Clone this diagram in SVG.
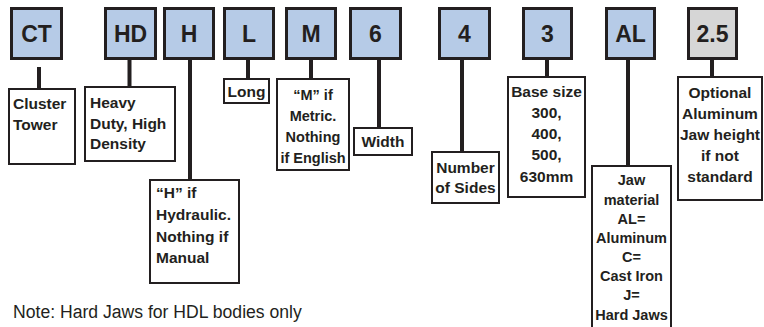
<svg xmlns="http://www.w3.org/2000/svg" width="764" height="327" viewBox="0 0 764 327">
<style>
.code{fill:#b6cbe7;stroke:#231f20;stroke-width:3}
.grey{fill:#d6d6d6;stroke:#231f20;stroke-width:3}
.ct{font-family:"Liberation Sans",Arial,sans-serif;font-weight:bold;font-size:23px;fill:#231f20;text-anchor:middle}
.desc{fill:#ffffff;stroke:#231f20;stroke-width:2}
.t{font-family:"Liberation Sans",Arial,sans-serif;font-weight:bold;font-size:15.5px;fill:#231f20}
.c{text-anchor:middle}
.sm{font-size:14.5px}
.stem{stroke:#231f20;stroke-width:4;fill:none}
.note{font-family:"Liberation Sans",Arial,sans-serif;font-size:17.6px;fill:#231f20}
</style>
<rect width="764" height="327" fill="#ffffff"/>
<g id="connectors">
<line class="stem" x1="39" y1="67" x2="39" y2="88"/>
<line class="stem" x1="129.5" y1="60" x2="129.5" y2="86"/>
<line class="stem" x1="190" y1="60" x2="190" y2="179"/>
<line class="stem" x1="248" y1="60" x2="248" y2="78"/>
<line class="stem" x1="311" y1="60" x2="311" y2="78"/>
<line class="stem" x1="379" y1="60" x2="379" y2="127"/>
<line class="stem" x1="462" y1="60" x2="462" y2="151"/>
<line class="stem" x1="547" y1="60" x2="547" y2="76"/>
<line class="stem" x1="628" y1="60" x2="628" y2="165"/>
<line class="stem" x1="712" y1="60" x2="712" y2="76"/>
</g>
<g id="code-CT"><rect class="code" x="11.5" y="8.5" width="50" height="50"/><text class="ct" x="36.5" y="42">CT</text></g>
<g id="code-HD"><rect class="code" x="105.5" y="8.5" width="50" height="50"/><text class="ct" x="130.5" y="42">HD</text></g>
<g id="code-H"><rect class="code" x="164.5" y="8.5" width="49" height="50"/><text class="ct" x="189" y="42">H</text></g>
<g id="code-L"><rect class="code" x="224.5" y="8.5" width="49" height="50"/><text class="ct" x="249" y="42">L</text></g>
<g id="code-M"><rect class="code" x="286.5" y="8.5" width="49" height="50"/><text class="ct" x="311" y="42">M</text></g>
<g id="code-6"><rect class="code" x="350.5" y="8.5" width="50" height="50"/><text class="ct" x="375.5" y="42">6</text></g>
<g id="code-4"><rect class="code" x="439.5" y="8.5" width="50" height="50"/><text class="ct" x="464.5" y="42">4</text></g>
<g id="code-3"><rect class="code" x="523.5" y="8.5" width="48" height="50"/><text class="ct" x="547.5" y="42">3</text></g>
<g id="code-AL"><rect class="code" x="606.5" y="8.5" width="48" height="50"/><text class="ct" x="630.5" y="42">AL</text></g>
<g id="code-2-5"><rect class="grey" x="688.5" y="8.5" width="48" height="50"/><text class="ct" x="712.5" y="42">2.5</text></g>

<g id="desc-cluster"><rect class="desc" x="9" y="89" width="66" height="75"/>
<text class="t" x="13" y="109">Cluster</text><text class="t" x="13" y="130">Tower</text></g>
<g id="desc-hd"><rect class="desc" x="85" y="87" width="90" height="74"/>
<text class="t" x="90" y="108">Heavy</text><text class="t" x="90" y="129">Duty, High</text><text class="t" x="90" y="149">Density</text></g>
<g id="desc-h"><rect class="desc" x="150" y="180" width="89" height="103"/>
<text class="t" x="156" y="198">“H” if</text><text class="t" x="156" y="220">Hydraulic.</text><text class="t" x="156" y="242">Nothing if</text><text class="t" x="156" y="263">Manual</text></g>
<g id="desc-long"><rect class="desc" x="224" y="79" width="45" height="24"/>
<text class="t c" x="246.5" y="97">Long</text></g>
<g id="desc-m"><rect class="desc" x="277" y="79" width="72" height="91"/>
<text class="t c sm" x="313" y="100">“M” if</text><text class="t c sm" x="313" y="121">Metric.</text><text class="t c sm" x="313" y="142">Nothing</text><text class="t c sm" x="313" y="163">if English</text></g>
<g id="desc-width"><rect class="desc" x="354" y="128" width="58" height="27"/>
<text class="t c" x="383" y="147">Width</text></g>
<g id="desc-sides"><rect class="desc" x="432" y="152" width="67" height="51"/>
<text class="t c" x="465.5" y="173">Number</text><text class="t c" x="465.5" y="193">of Sides</text></g>
<g id="desc-base"><rect class="desc" x="508" y="77" width="77" height="120"/>
<text class="t c" x="546.5" y="97">Base size</text><text class="t c" x="546.5" y="118">300,</text><text class="t c" x="546.5" y="139">400,</text><text class="t c" x="546.5" y="160">500,</text><text class="t c" x="546.5" y="182">630mm</text></g>
<g id="desc-jaw"><rect class="desc" x="592" y="166" width="79" height="170"/>
<text class="t c sm" x="631.5" y="185">Jaw</text><text class="t c sm" x="631.5" y="205">material</text><text class="t c sm" x="631.5" y="224">AL=</text><text class="t c sm" x="631.5" y="243">Aluminum</text><text class="t c sm" x="631.5" y="262">C=</text><text class="t c sm" x="631.5" y="281">Cast Iron</text><text class="t c sm" x="631.5" y="300">J=</text><text class="t c sm" x="631.5" y="320">Hard Jaws</text></g>
<g id="desc-optional"><rect class="desc" x="678" y="77" width="84" height="123"/>
<text class="t c" x="720" y="98">Optional</text><text class="t c" x="720" y="119">Aluminum</text><text class="t c" x="720" y="140">Jaw height</text><text class="t c" x="720" y="161">if not</text><text class="t c" x="720" y="182">standard</text></g>
<text class="note" x="13" y="318">Note: Hard Jaws for HDL bodies only</text>
</svg>
